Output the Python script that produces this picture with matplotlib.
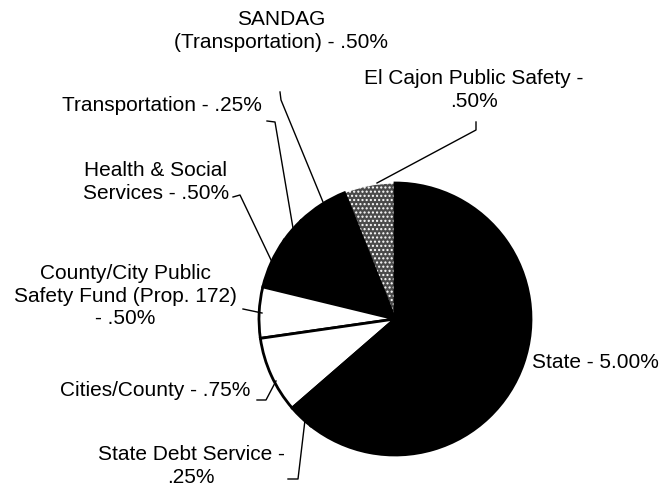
import matplotlib
matplotlib.use("Agg")
import matplotlib.pyplot as plt

plt.rcParams["font.family"] = ["Liberation Sans", "DejaVu Sans"]
plt.rcParams["hatch.linewidth"] = 1.0

# sales tax shares, counter-clockwise from 12 o'clock
labels = [
    "El Cajon Public Safety -\n.50%",
    "SANDAG\n(Transportation) - .50%",
    "Transportation - .25%",
    "Health & Social\nServices - .50%",
    "County/City Public\nSafety Fund (Prop. 172)\n- .50%",
    "Cities/County - .75%",
    "State Debt Service -\n.25%",
    "State - 5.00%",
]
rates = [0.50, 0.50, 0.25, 0.50, 0.50, 0.75, 0.25, 5.00]
fills = ["#4a4a4a", "black", "black", "black", "white", "white", "black", "black"]

W, H = 662, 490


def px(x, y):
    # pixel coords (top-left origin) -> axes data coords
    return x, H - y


fig = plt.figure(figsize=(6.62, 4.9), dpi=100)
ax = fig.add_axes([0, 0, 1, 1])

wedges, _ = ax.pie(
    rates,
    colors=fills,
    startangle=90,
    counterclock=True,
    center=px(395, 319),
    radius=136,
    wedgeprops=dict(edgecolor="black", linewidth=2.0),
)
# stippled slice
wedges[0].set_hatch("....")
wedges[0].set_edgecolor("white")
wedges[0].set_linewidth(0.8)

# label text: (x, y, ha)
label_pos = [
    (474, 90, "center"),
    (281, 31, "center"),
    (262, 106, "right"),
    (156, 182, "center"),
    (125, 296, "center"),
    (250, 390, "right"),
    (191, 466, "center"),
    (532, 363, "left"),
]
# leader lines
leaders = [
    [(476, 122), (476, 130), (377, 183)],
    [(280, 92), (281, 100), (323, 202)],
    [(267, 121), (275, 122), (293, 228)],
    [(233, 197), (240, 195), (272, 262)],
    [(243, 309), (262, 313)],
    [(257, 400), (266, 400), (276, 381)],
    [(288, 479), (298, 479), (305, 420)],
    None,
]

for lab, (x, y, ha), pts in zip(labels, label_pos, leaders):
    ax.text(*px(x, y), lab, ha=ha, va="center", fontsize=15, linespacing=1.25)
    if pts:
        xs = [p[0] for p in pts]
        ys = [H - p[1] for p in pts]
        ax.plot(xs, ys, color="black", lw=1.0)

ax.set_xlim(0, W)
ax.set_ylim(0, H)
ax.set_aspect("equal")
ax.axis("off")

fig.savefig("out.png", dpi=100, facecolor="white")
